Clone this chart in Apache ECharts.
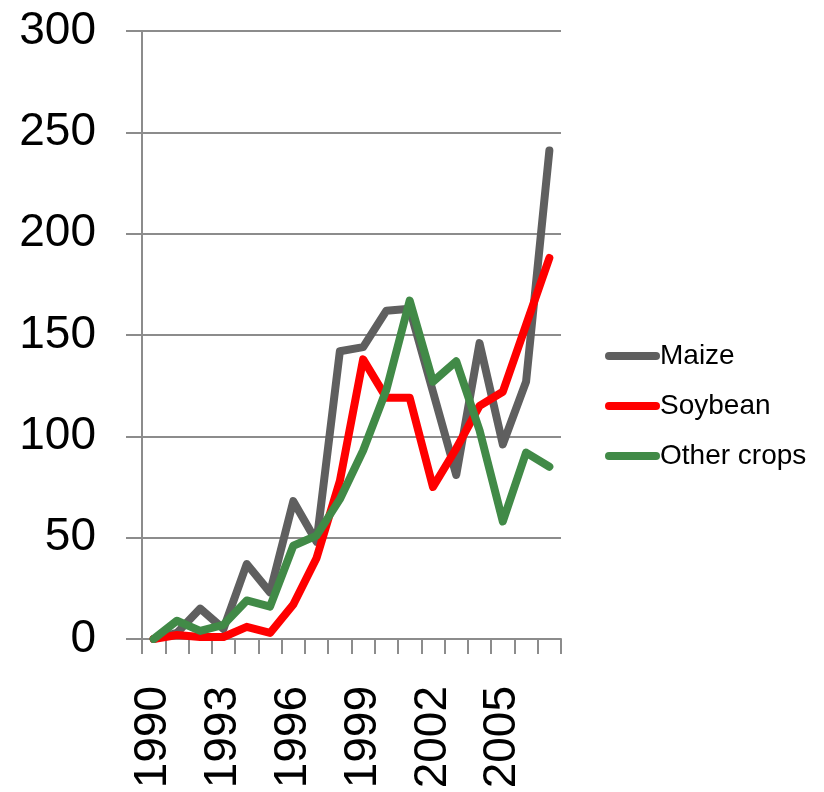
<!DOCTYPE html>
<html>
<head>
<meta charset="utf-8">
<script src="https://cdn.jsdelivr.net/npm/echarts@6/dist/echarts.min.js"></script>
<style>html,body{margin:0;padding:0;background:#fff;}#c{width:824px;height:792px;}</style>
</head>
<body>
<div id="c"></div>
<script>
const years = ['1990','1991','1992','1993','1994','1995','1996','1997','1998','1999','2000','2001','2002','2003','2004','2005','2006','2007'];
const maize = [0, 3, 15, 5, 37, 23, 68, 48, 142, 144, 162, 163, 122, 81, 146, 96, 127, 241];
const soybean = [0, 2, 1, 1, 6, 3, 17, 40, 78, 138, 119, 119, 75, 94, 115, 122, 155, 188];
const otherCrops = [0, 9, 4, 7, 19, 16, 46, 51, 69, 93, 123, 167, 127, 137, 103, 58, 92, 85];
const yTicks = {min: 0, max: 300, interval: 50};

const font = 'Liberation Sans';
const capsule = 'path://M4,0 L51,0 A4,4 0 0 1 51,8 L4,8 A4,4 0 0 1 4,0 Z';
const chart = echarts.init(document.getElementById('c'), null, {renderer: 'canvas'});
function mk(name, data, color) {
  return {
    name: name, type: 'line', data: data, symbol: 'none', smooth: false,
    lineStyle: {color: color, width: 8, cap: 'round', join: 'round'},
    itemStyle: {color: color}, z: 3
  };
}
chart.setOption({
  animation: false,
  backgroundColor: '#ffffff',
  grid: {left: 142, right: 263, top: 31, bottom: 153, containLabel: false},
  legend: {
    orient: 'vertical', left: 600, top: 337,
    itemWidth: 55, itemHeight: 8, itemGap: 22,
    textStyle: {fontFamily: font, fontSize: 28, color: '#000', padding: [0,0,0,-5]},
    data: [
      {name: 'Maize', icon: capsule},
      {name: 'Soybean', icon: capsule},
      {name: 'Other crops', icon: capsule}
    ]
  },
  xAxis: {
    type: 'category', data: years, boundaryGap: true,
    axisLine: {lineStyle: {color: '#8c8c8c', width: 2}},
    axisTick: {show: true, interval: 0, length: 15, lineStyle: {color: '#8c8c8c', width: 2}},
    axisLabel: {interval: 2, rotate: 90, margin: 47, fontFamily: font, fontSize: 46, color: '#000'},
    splitLine: {show: false}
  },
  yAxis: {
    type: 'value', min: yTicks.min, max: yTicks.max, interval: yTicks.interval,
    axisLine: {show: true, lineStyle: {color: '#8c8c8c', width: 2}},
    axisTick: {show: true, length: 16, lineStyle: {color: '#8c8c8c', width: 2}},
    axisLabel: {margin: 46, fontFamily: font, fontSize: 46, color: '#000'},
    splitLine: {show: true, lineStyle: {color: '#8c8c8c', width: 2}}
  },
  series: [
    mk('Maize', maize, '#5f5f5f'),
    mk('Soybean', soybean, '#ff0000'),
    mk('Other crops', otherCrops, '#418a47')
  ]
});
</script>
</body>
</html>
